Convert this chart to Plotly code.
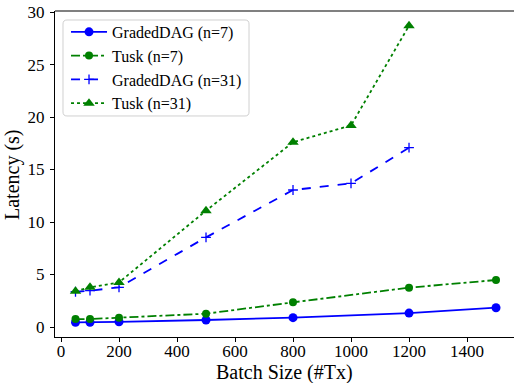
import plotly.graph_objects as go

batch_gd7 = [50, 100, 200, 500, 800, 1200, 1500]
lat_gd7 = [0.45, 0.45, 0.5, 0.67, 0.89, 1.33, 1.84]
batch_tk7 = [50, 100, 200, 500, 800, 1200, 1500]
lat_tk7 = [0.76, 0.76, 0.89, 1.27, 2.35, 3.75, 4.48]
batch_gd31 = [50, 100, 200, 500, 800, 1000, 1200]
lat_gd31 = [3.36, 3.46, 3.78, 8.54, 13.05, 13.68, 17.08]
batch_tk31 = [50, 100, 200, 500, 800, 1000, 1200]
lat_tk31 = [3.4, 3.78, 4.25, 11.08, 17.6, 19.2, 28.7]

x_ticks = [0, 200, 400, 600, 800, 1000, 1200, 1400]
y_ticks = [0, 5, 10, 15, 20, 25, 30]

BLUE = "#0000ff"
GREEN = "#008000"
FONT = "Liberation Serif, Times New Roman, serif"

fig = go.Figure()
fig.add_trace(go.Scatter(x=batch_gd7, y=lat_gd7, name="GradedDAG (n=7)", mode="lines+markers",
                         line=dict(color=BLUE, width=1.8, dash="solid"),
                         marker=dict(symbol="circle", size=9, color=BLUE), legendgroup="a"))
fig.add_trace(go.Scatter(x=batch_tk7, y=lat_tk7, name="Tusk (n=7)", mode="lines+markers",
                         line=dict(color=GREEN, width=1.8, dash="dashdot"),
                         marker=dict(symbol="circle", size=8, color=GREEN), legendgroup="b"))
fig.add_trace(go.Scatter(x=batch_gd31, y=lat_gd31, name="GradedDAG (n=31)", mode="lines+markers",
                         line=dict(color=BLUE, width=1.8, dash="dash"),
                         marker=dict(symbol="cross-thin", size=7, color=BLUE,
                                     line=dict(color=BLUE, width=1.3)), legendgroup="c"))
fig.add_trace(go.Scatter(x=batch_tk31, y=lat_tk31, name="Tusk (n=31)", mode="lines+markers",
                         line=dict(color=GREEN, width=1.8, dash="dot"),
                         marker=dict(symbol="triangle-up", size=10, color=GREEN), legendgroup="d"))

tickfont = dict(family=FONT, size=17, color="black")
titlefont = dict(family=FONT, size=20, color="black")

fig.update_layout(
    width=514, height=383,
    margin=dict(l=55, r=0, t=11, b=46),
    paper_bgcolor="white", plot_bgcolor="white",
    font=dict(family=FONT, size=17, color="black"),
    showlegend=True,
    legend=dict(x=0.024, y=0.988, xanchor="left", yanchor="top",
                bgcolor="rgba(0,0,0,0)", borderwidth=0,
                font=dict(family=FONT, size=16, color="black"), traceorder="grouped",
                tracegroupgap=0, itemwidth=36),
    xaxis=dict(range=[-20.7, 1562], tickvals=x_ticks, ticks="outside", ticklen=4,
               tickcolor="black", showline=True, linecolor="black", linewidth=1,
               showgrid=False, zeroline=False, tickfont=tickfont, automargin=False,
               ticklabelstandoff=-5),
    yaxis=dict(range=[-0.95, 30.1], tickvals=y_ticks, ticks="outside", ticklen=4,
               tickcolor="black", showline=True, linecolor="black", linewidth=1,
               showgrid=False, zeroline=False, tickfont=tickfont, automargin=False,
               ticklabelstandoff=2),
)

# axis titles
fig.add_annotation(text="Batch Size (#Tx)", xref="paper", yref="paper", x=0.5, y=-0.109,
                   xanchor="center", yanchor="middle", showarrow=False, font=titlefont)
fig.add_annotation(text="Latency (s)", xref="paper", yref="paper", x=-0.0937, y=0.5,
                   xanchor="center", yanchor="middle", textangle=-90, showarrow=False,
                   font=titlefont)

# top spine
fig.add_shape(type="line", xref="paper", yref="paper", x0=0, x1=1, y0=1, y1=1,
              line=dict(color="#808080", width=2))

# legend frame (rounded)
x0, x1, yb, yt = 0.0174, 0.4227, 0.678, 0.9724
rx, ry = 0.0087, 0.0123
path = (f"M {x0+rx},{yt} L {x1-rx},{yt} Q {x1},{yt} {x1},{yt-ry} "
        f"L {x1},{yb+ry} Q {x1},{yb} {x1-rx},{yb} L {x0+rx},{yb} Q {x0},{yb} {x0},{yb+ry} "
        f"L {x0},{yt-ry} Q {x0},{yt} {x0+rx},{yt} Z")
fig.add_shape(type="path", path=path, xref="paper", yref="paper",
              fillcolor="rgba(255,255,255,0.8)", line=dict(color="#d0d0d0", width=1))

fig.write_html("out.html")
